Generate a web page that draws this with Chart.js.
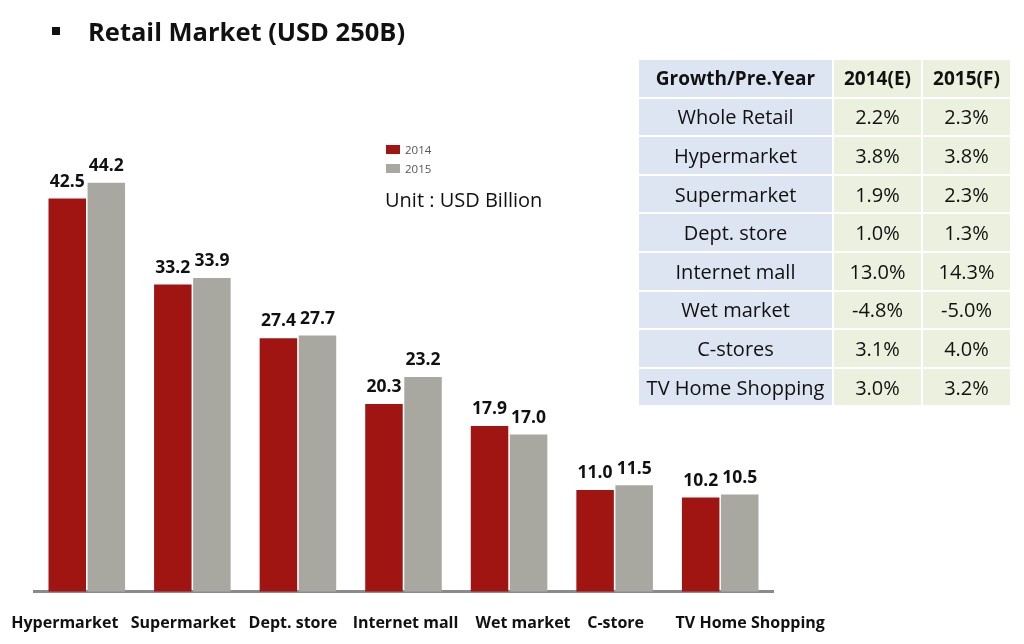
<!DOCTYPE html>
<html><head><meta charset="utf-8">
<script src="https://cdn.jsdelivr.net/npm/chart.js@4.4.0/dist/chart.umd.min.js"></script>
<style>
html,body{margin:0;padding:0;background:#fff;width:1024px;height:644px;overflow:hidden;font-family:"Open Sans","Noto Sans",sans-serif;}
#wrap{position:absolute;left:0;top:0;width:1024px;height:644px;overflow:hidden;}
#title{position:absolute;left:52px;top:14px;font-weight:bold;font-size:25.5px;color:#111;white-space:nowrap;}
#title .b{display:inline-block;width:8px;height:8px;background:#111;vertical-align:middle;margin-right:28px;position:relative;top:-3px;}
#legend{position:absolute;left:386px;top:140px;font-size:11.5px;color:#555;}
#legend div{height:19px;line-height:20px;white-space:nowrap;}
#legend span.sw{display:inline-block;width:14px;height:9px;vertical-align:middle;margin-right:5px;position:relative;top:-1px;}
#unit{position:absolute;left:385px;top:186px;font-size:20px;color:#111;white-space:nowrap;}
table{position:absolute;left:637px;top:58px;border-collapse:collapse;font-size:20px;color:#111;}
td{border:2px solid #fff;text-align:center;height:36.6px;padding:0;white-space:nowrap;}
td.c0{background:#dce5f1;width:193px;}
td.c1,td.c2{background:#ebf1de;width:87px;}
tr.h td{font-weight:bold;font-size:19px;}
</style></head>
<body><div id="wrap">
<canvas id="c" width="1024" height="657" style="position:absolute;left:0;top:0;"></canvas>
<div id="title"><span class="b"></span>Retail Market (USD 250B)</div>
<div id="legend"></div>
<div id="unit">Unit : USD Billion</div>
<table id="tbl"></table>
</div>
<script>
const categories = ["Hypermarket","Supermarket","Dept. store","Internet mall","Wet market","C-store","TV Home Shopping"];
const seriesNames = ["2014","2015"];
const values2014 = [42.5,33.2,27.4,20.3,17.9,11.0,10.2];
const values2015 = [44.2,33.9,27.7,23.2,17.0,11.5,10.5];
const colors = ["#a01512","#a9a8a0"];

const tableHeader = ["Growth/Pre.Year","2014(E)","2015(F)"];
const tableRows = ["Whole Retail","Hypermarket","Supermarket","Dept. store","Internet mall","Wet market","C-stores","TV Home Shopping"];
const growth2014 = ["2.2%","3.8%","1.9%","1.0%","13.0%","-4.8%","3.1%","3.0%"];
const growth2015 = ["2.3%","3.8%","2.3%","1.3%","14.3%","-5.0%","4.0%","3.2%"];

// presentational nudges of the category captions (px), as laid out in the original slide
const captionNudge = [-22,-9,-5,2,14,1,30];

// table
const tbl = document.getElementById('tbl');
let html = '<tr class="h">' + tableHeader.map((h,i)=>'<td class="c'+i+'">'+h+'</td>').join('') + '</tr>';
tableRows.forEach((r,i)=>{
  html += '<tr><td class="c0">'+r+'</td><td class="c1">'+growth2014[i]+'</td><td class="c2">'+growth2015[i]+'</td></tr>';
});
tbl.innerHTML = html;

// legend
document.getElementById('legend').innerHTML = seriesNames.map((s,i)=>'<div><span class="sw" style="background:'+colors[i]+'"></span>'+s+'</div>').join('');

const labelPlugin = {
  id:'valLabels',
  afterDatasetsDraw(chart){
    const ctx = chart.ctx;
    ctx.save();
    ctx.font = 'bold 17.5px "Open Sans", sans-serif';
    ctx.fillStyle = '#111';
    ctx.textAlign = 'center';
    ctx.textBaseline = 'bottom';
    chart.data.datasets.forEach((ds,di)=>{
      chart.getDatasetMeta(di).data.forEach((bar,i)=>{
        const p = bar.getProps(['x','y'],true);
        ctx.fillText(ds.data[i].toFixed(1), p.x, p.y-8);
      });
    });
    ctx.restore();
  },
  afterDraw(chart){
    const ctx = chart.ctx, xs = chart.scales.x;
    ctx.save();
    ctx.font = 'bold 16px "Open Sans", sans-serif';
    ctx.fillStyle = '#111';
    ctx.textAlign = 'center';
    ctx.textBaseline = 'middle';
    chart.data.labels.forEach((l,i)=>{
      ctx.fillText(l, xs.getPixelForTick(i) + captionNudge[i], xs.top + 32);
    });
    ctx.restore();
  }
};

new Chart(document.getElementById('c'),{
  type:'bar',
  data:{
    labels:categories,
    datasets:[
      {label:seriesNames[0],data:values2014,backgroundColor:colors[0]},
      {label:seriesNames[1],data:values2015,backgroundColor:colors[1]}
    ]
  },
  options:{
    responsive:false,
    animation:false,
    devicePixelRatio:1,
    layout:{padding:{left:34,right:251,top:129,bottom:0}},
    categoryPercentage:0.74,
    barPercentage:0.96,
    plugins:{legend:{display:false},tooltip:{enabled:false}},
    scales:{
      x:{
        grid:{display:false,drawTicks:false},
        border:{color:'#8a8a8a',width:3},
        ticks:{color:'rgba(0,0,0,0)',font:{family:'"Open Sans", sans-serif',weight:'bold',size:16},padding:23,maxRotation:0,autoSkip:false}
      },
      y:{
        display:false,
        min:0,max:50
      }
    }
  },
  plugins:[labelPlugin]
});
</script>
</body></html>
